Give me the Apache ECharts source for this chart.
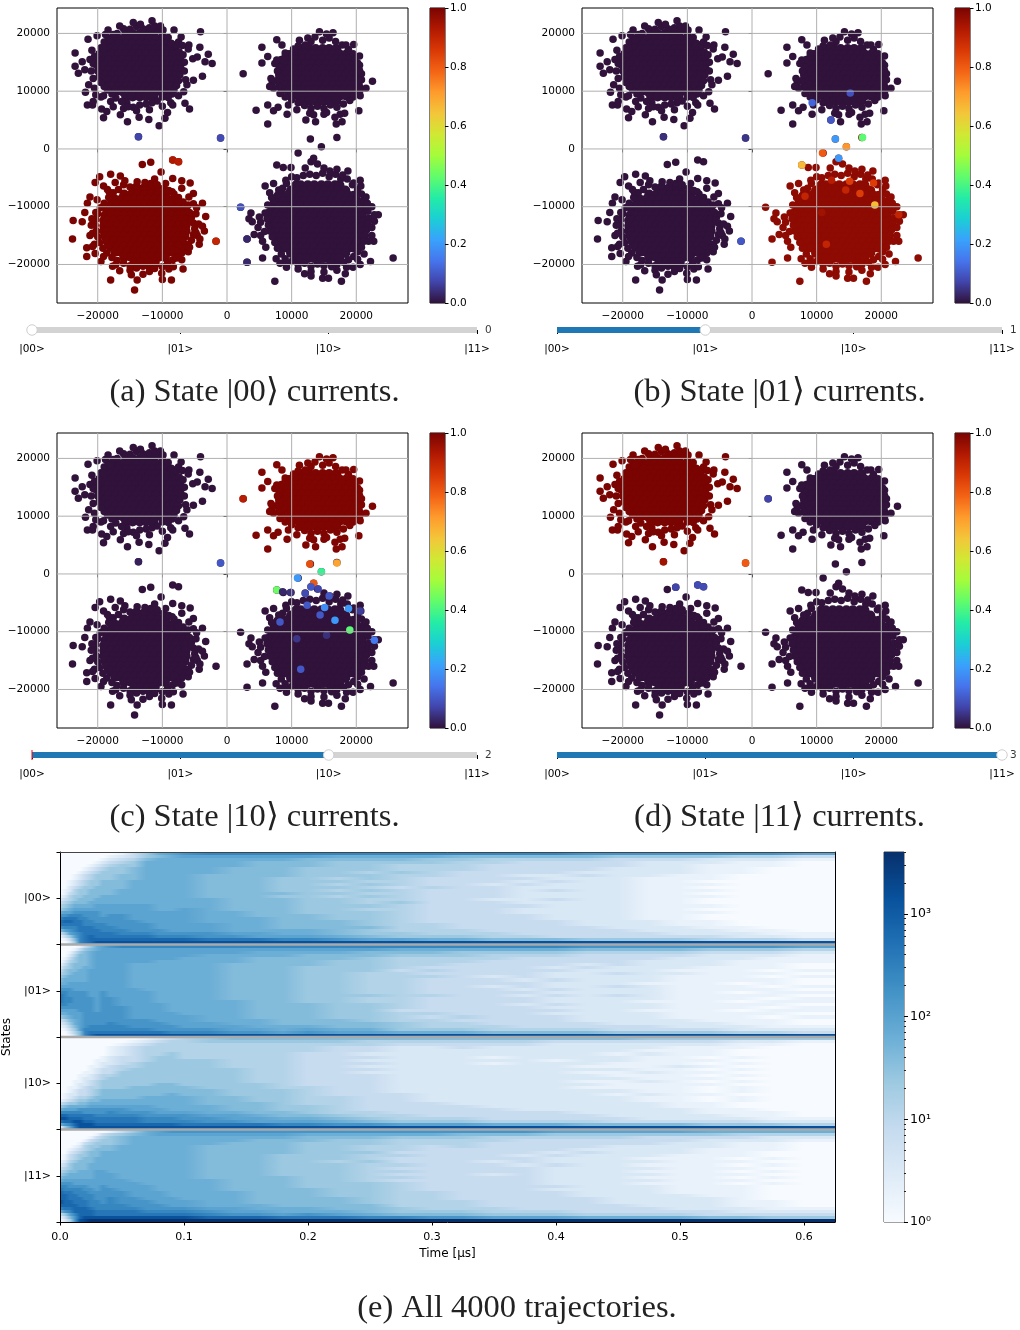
<!DOCTYPE html>
<html><head><meta charset="utf-8">
<script src="https://cdn.jsdelivr.net/npm/echarts@6/dist/echarts.min.js"></script>
<style>html,body{margin:0;padding:0;background:#fff}#c{width:1020px;height:1330px}</style></head>
<body><div id="c"></div>
<script>
// Scatter positions, units of 100 (current). Core rows: [y, x, x, ...]; ring/outer: flat x,y pairs.
const coreLL=[[-70,-143,-133,-122,-112],[-79,-159,-148,-138,-127,-117,-106,-96],[-88,-173,-164,-154,-143,-133,-122,-112,-101,-91,-82],[-97,-180,-169,-159,-148,-138,-127,-117,-106,-96,-85,-75],[-106,-185,-175,-164,-154,-143,-133,-122,-112,-101,-91,-80,-70],[-115,-188,-180,-169,-159,-148,-138,-127,-117,-106,-96,-85,-75,-66],[-124,-190,-185,-175,-164,-154,-143,-133,-122,-112,-101,-91,-80,-70,-64],[-133,-190,-180,-169,-159,-148,-138,-127,-117,-106,-96,-85,-75,-64],[-142,-190,-185,-175,-164,-154,-143,-133,-122,-112,-101,-91,-80,-70,-64],[-151,-188,-180,-169,-159,-148,-138,-127,-117,-106,-96,-85,-75,-66],[-160,-185,-175,-164,-154,-143,-133,-122,-112,-101,-91,-80,-70],[-169,-180,-169,-159,-148,-138,-127,-117,-106,-96,-85,-75],[-178,-173,-164,-154,-143,-133,-122,-112,-101,-91,-82],[-187,-159,-148,-138,-127,-117,-106,-96],[-196,-143,-133,-122,-112]];
const ringLL=[-160,-62,-150,-66,-140,-64,-128,-66,-118,-60,-108,-66,-98,-68,-90,-72,-82,-78,-75,-84,-68,-92,-62,-100,-58,-110,-55,-118,-52,-128,-50,-138,-52,-148,-55,-158,-60,-165,-64,-172,-70,-180,-76,-186,-84,-192,-92,-198,-100,-204,-110,-200,-120,-205,-130,-203,-140,-206,-150,-202,-160,-198,-170,-193,-178,-188,-186,-180,-192,-172,-197,-162,-200,-152,-202,-142,-204,-132,-203,-122,-200,-112,-196,-102,-190,-94,-183,-84,-176,-76,-168,-70,-210,-132,-212,-150,-205,-165,-195,-195,-182,-75,-185,-70,-158,-55,-112,-52,-95,-60,-70,-68,-52,-95,-48,-112,-44,-130,-46,-150,-70,-192,-90,-208,-120,-212,-150,-210,-172,-200];
const outerLL=[-238,-124,-239,-156,-224,-126,-220,-110,-209,-121,-216,-94,-212,-83,-204,-58,-197,-48,-180,-44,-165,-47,-201,-88,-191,-64,-173,-58,-203,-110,-208,-146,-217,-171,-208,-169,-217,-186,-204,-181,-191,-186,-177,-203,-166,-211,-180,-227,-148,-218,-139,-227,-130,-217,-143,-244,-112,-207,-101,-215,-100,-226,-86,-227,-83,-204,-68,-208,-78,-189,-60,-178,-58,-170,-43,-165,-42,-156,-35,-142,-38,-134,-48,-145,-33,-117,-47,-102,-56,-123,-38,-94,-52,-77,-59,-83,-57,-59,-70,-55,-84,-51,-102,-40,-131,-27,-118,-23,-139,-57,-127,-58,-108,-62,-85,-74,-75,-91,-60,-97,-84,-19,-75,-22,-17,-160];
const coreLR=[[-63,107,114,125,135,146,156,167,174],[-72,99,109,120,130,141,151,162,172,183],[-81,86,93,104,114,125,135,146,156,167,177,188,196],[-90,81,88,99,109,120,130,141,151,162,172,183,193,201],[-99,76,83,93,104,114,125,135,146,156,167,177,188,198,206],[-108,73,78,88,99,109,120,130,141,151,162,172,183,193,204,209],[-117,72,83,93,104,114,125,135,146,156,167,177,188,198,209],[-126,71,78,88,99,109,120,130,141,151,162,172,183,193,204,211],[-135,72,83,93,104,114,125,135,146,156,167,177,188,198,209],[-144,73,78,88,99,109,120,130,141,151,162,172,183,193,204,209],[-153,76,83,93,104,114,125,135,146,156,167,177,188,198,206],[-162,81,88,99,109,120,130,141,151,162,172,183,193,201],[-171,86,93,104,114,125,135,146,156,167,177,188,196],[-180,99,109,120,130,141,151,162,172,183],[-189,107,114,125,135,146,156,167,174]];
const ringLR=[100,-48,108,-50,118,-46,128,-44,138,-46,148,-42,158,-48,168,-44,176,-52,186,-52,194,-62,202,-70,208,-78,212,-88,215,-98,218,-108,220,-120,218,-130,216,-140,214,-150,212,-160,208,-170,202,-178,196,-186,188,-192,180,-196,170,-200,160,-197,150,-202,140,-199,130,-203,120,-198,110,-200,100,-195,90,-190,84,-182,78,-172,74,-162,70,-152,66,-142,64,-132,63,-122,64,-110,68,-100,72,-90,78,-80,86,-68,92,-60,72,-60,66,-76,50,-118,48,-136,52,-150,60,-170,76,-190,92,-205,110,-208,130,-212,150,-213,170,-210,195,-205,212,-182,224,-150,226,-120,224,-100,150,-33,170,-35];
const outerLR=[77,-28,87,-32,99,-32,121,-33,130,-22,140,-26,59,-64,69,-84,63,-97,37,-111,34,-121,39,-126,52,-127,59,-111,62,-120,58,-143,42,-148,31,-156,55,-160,55,-189,31,-196,74,-229,82,-198,92,-198,120,-216,130,-220,148,-224,157,-224,177,-229,183,-216,185,-205,162,-204,206,-200,202,-191,222,-195,257,-189,227,-160,219,-160,224,-136,228,-125,234,-114,228,-114,217,-104,217,-94,215,-83,207,-64,206,-54,187,-38,179,-45,159,-38,196,-59,91,-54,80,-71,21,-101,170,20,129,17,146,4,110,-7,134,-16];
const coreUR=[[173,116,127,137,148,158,169],[164,101,111,122,132,143,153,164,174,185],[155,95,106,116,127,137,148,158,169,179,190],[146,90,101,111,122,132,143,153,164,174,185,195],[137,85,95,106,116,127,137,148,158,169,179,190,200],[128,85,90,101,111,122,132,143,153,164,174,185,195,201],[119,85,95,106,116,127,137,148,158,169,179,190,200],[110,90,101,111,122,132,143,153,164,174,185,195],[101,95,106,116,127,137,148,158,169,179,190],[92,101,111,122,132,143,153,164,174,185],[83,116,127,137,148,158,169]];
const ringUR=[125,192,130,186,148,188,158,192,168,186,178,180,110,178,105,168,95,165,188,172,195,165,198,156,205,145,208,130,208,120,205,108,200,100,195,90,190,84,180,78,170,72,160,76,150,70,140,74,130,70,120,75,110,80,100,85,90,90,84,100,80,108,76,118,80,128,78,135,80,145,84,155,90,160,70,115,72,105,215,105,150,60,128,62,108,68,175,60];
const outerUR=[143,203,154,199,164,201,136,194,77,189,85,180,54,176,63,160,54,149,74,148,77,154,90,166,103,173,112,188,121,180,196,181,184,180,205,161,202,149,205,136,225,117,205,117,206,102,206,92,204,66,182,62,178,47,169,43,167,55,154,63,137,47,122,50,134,59,93,60,79,72,72,66,63,76,45,67,63,43,25,130,68,122,66,108,82,96,95,76];
const coreUL=[[199,-156,-146,-135,-125,-114],[190,-172,-162,-151,-141,-130,-120,-109,-99],[181,-183,-177,-167,-156,-146,-135,-125,-114,-104,-93,-87],[172,-189,-183,-172,-162,-151,-141,-130,-120,-109,-99,-88,-82],[163,-192,-188,-177,-167,-156,-146,-135,-125,-114,-104,-93,-83,-78],[154,-193,-183,-172,-162,-151,-141,-130,-120,-109,-99,-88,-78],[145,-195,-188,-177,-167,-156,-146,-135,-125,-114,-104,-93,-83,-76],[136,-193,-183,-172,-162,-151,-141,-130,-120,-109,-99,-88,-78],[127,-192,-188,-177,-167,-156,-146,-135,-125,-114,-104,-93,-83,-78],[118,-189,-183,-172,-162,-151,-141,-130,-120,-109,-99,-88,-82],[109,-183,-177,-167,-156,-146,-135,-125,-114,-104,-93,-87],[100,-172,-162,-151,-141,-130,-120,-109,-99],[91,-156,-146,-135,-125,-114]];
const ringUL=[-170,200,-178,192,-160,208,-150,207,-130,208,-120,210,-108,205,-100,198,-92,188,-86,182,-78,178,-74,168,-72,158,-70,148,-71,138,-73,128,-75,118,-78,110,-82,102,-85,95,-92,96,-100,90,-108,83,-116,80,-125,78,-135,76,-145,72,-155,80,-163,82,-172,88,-178,95,-185,102,-190,108,-195,115,-198,125,-200,135,-202,145,-200,155,-198,165,-195,175,-190,185,-184,192,-176,198,-205,160,-210,135,-212,155,-188,198,-112,213,-140,212,-103,213,-75,185,-66,150,-64,120,-75,92,-87,80,-100,74,-120,68,-140,66,-160,70,-180,82,-195,90,-205,105];
const outerUL=[-235,166,-235,143,-230,131,-224,151,-220,137,-215,190,-209,171,-201,196,-191,174,-207,148,-207,122,-214,111,-219,98,-203,94,-216,76,-208,76,-191,92,-207,82,-194,69,-186,65,-191,54,-184,206,-166,213,-145,219,-134,216,-116,222,-82,206,-71,194,-41,203,-42,176,-29,164,-34,151,-23,148,-38,126,-52,119,-53,156,-46,159,-69,179,-59,180,-60,173,-68,163,-66,135,-62,111,-67,99,-65,79,-58,69,-84,76,-92,63,-96,53,-91,89,-105,40,-121,51,-136,55,-154,47,-165,59,-176,73,-181,189,-91,193,-99,206,-153,73,-137,21,-10,19];
// Points whose colour differs from their cluster: x, y, value
const extrasA=[[-137,21,.07],[-10,19,.08],[-84,-19,.93],[-75,-22,.92],[-17,-160,.9],[21,-101,.09],[31,-156,.03],[31,-196,.03]];
const extrasB=[[-137,21,.04],[-10,19,.05],[-17,-160,.1],[122,50,.1],[93,80,.12],[152,97,.09],[129,17,.2],[171,20,.42],[146,4,.72],[109,-7,.8],[134,-16,.2],[77,-28,.66],[190,-97,.66],[188,-59,.85],[151,-56,.85],[145,-71,.9],[167,-77,.85],[115,-165,.9],[82,-82,.9],[123,-54,.92],[227,-114,.9],[108,-110,.95]];
const extrasC=[[-137,21,.02],[-10,19,.1],[25,130,.92],[128,17,.82],[170,19,.7],[146,4,.38],[109,-7,.2],[134,-16,.8],[77,-28,.44],[190,-97,.42],[130,-22,.1],[121,-34,.08],[141,-26,.07],[86,-31,.03],[98,-32,.04],[82,-83,.1],[158,-38,.1],[188,-60,.2],[167,-80,.2],[144,-71,.1],[206,-64,.06],[124,-54,.1],[151,-58,.18],[114,-165,.1],[228,-115,.15],[108,-112,.05],[154,-106,.04]];
const extrasD=[[-137,21,.95],[-10,19,.8],[25,130,.07],[-118,-23,.07],[-84,-19,.08],[-75,-22,.08]];
const hotValues=[1,.975,.995,1];
const panelExtras=[extrasA,extrasB,extrasC,extrasD];
const sliderValues=[0,1,2,3];
const sliderLabels=['|00>','|01>','|10>','|11>'];
const scatterTicks=[-20000,-10000,0,10000,20000];
const cbarTicks=[0,.2,.4,.6,.8,1];
const captions=['(a) State |00⟩ currents.','(b) State |01⟩ currents.','(c) State |10⟩ currents.','(d) State |11⟩ currents.','(e) All 4000 trajectories.'];
const stateLabels=['|00>','|01>','|10>','|11>'];
const timeTicks=[0,.1,.2,.3,.4,.5,.6];
const logMajor=[0,1,2,3];
const logMinorCounts=[2,3,4,5,6,7,8,9,20,30,40,50,60,70,80,90,200,300,400,500,600,700,800,900,2000,3000,4000];
// Trajectory density: time-bin edges in µs, and for each state 30 rows (top to bottom) of hex density levels
const tEdges=[0,.004,.008,.012,.016,.02,.025,.03,.035,.04,.05,.06,.07,.08,.09,.1,.12,.14,.16,.18,.2,.225,.25,.275,.3,.325,.35,.375,.4,.425,.45,.475,.5,.525,.55,.575,.6,.625];
const levelFractions=[0,.07,.15,.24,.31,.38,.44,.5,.55,.61,.67,.73,.79,.875,.93,1];
const band00=["00000 0000 013578 9aaaa aaaaaaaaa99999998","00000 0000 123567 88888 87777666665555443","00000 0001 234677 77777 66665544443332221","00000 0012 345777 77766 65555443333222110","00000 0123 455777 77766 65544433333221110","00000 1234 556777 77666 55544433332221100","00001 2345 556777 77666 55454333322221100","00012 3455 566777 76666 55544332232211000","00012 3455 566777 76665 54543333222111000","00123 4556 667777 76665 55443332322110000","00123 4556 667777 76665 54543323222111000","00234 5566 667777 76665 55434332222110000","01245 5666 677777 76665 54543332322111000","01345 5666 677777 76666 55443332222110000","12455 6667 777777 76665 54543332222111000","23456 6677 777777 77666 55443322322110000","34566 6777 777777 77666 55453332222110000","45677 7788 888877 77666 55543333222111000","56788 8888 888877 87666 55443332222110000","78899 9998 888888 87766 55543332222111000","99aaa 9998 998888 87766 65543333222110000","abbba a999 998888 87776 65543333222110000","bccbb aa99 999888 87776 66543333322211000","bbbbb aaaa 999988 88776 66544333322211000","9aaab bbaa a99988 88776 66644333332221100","689ab bbba aa9998 88777 76544433333222110","3589a bbbb baaa99 99887 76554443333322211","1358a bcbb bbbbaa a9988 87655544333333221","0136a bccc cccccc cbbba a9887766655554443","0025a bcdd dddddd ddddd ddddddddddddddddd"];
const band01=["00001 3578 9aaaaa aaaaa aaaaaaaaa99999998","00013 5678 888888 88888 88877777766665554","00135 6788 888888 88877 77666555544443332","00246 6788 888888 87777 66655544433332221","01356 6788 888888 77766 66544443333322211","02456 6788 888877 77766 65544433333222111","13566 6788 887777 77666 65544333323222110","24566 7788 887777 77666 55543333232221110","35667 7888 887777 77666 55534333322211101","45677 7888 887777 77666 55443333223221110","56777 7888 887777 77666 55444323222211101","67777 7888 887777 77666 55443332322211110","77888 8888 887777 77666 55443333222111010","88888 8888 887777 77666 55443323223211101","99988 8888 888777 77666 55443332322211110","aa999 9889 888877 77666 55443333222211011","ba999 9889 888877 77666 55544332323211110","baa99 9989 988877 77666 55443333222211101","baa99 9989 988877 77766 55443333222111011","aa999 9989 988887 77766 65543332322211110","99999 9989 998887 77766 65543333222211101","88889 9989 998887 77766 65533333322111011","77888 9999 998888 77766 65544333222211110","56788 9999 998888 87766 65543433322211101","34678 9999 999988 87776 66544333322221110","23578 9999 a99998 88776 66654433332222110","12468 9aaa aa9999 88877 76654443333322211","01358 aaaa aaaa99 99887 87755544443333222","00246 abbb bbbbba aa998 98877766665555443","00136 acdd dddddd ddddd ddddddddddddddddd"];
const band10=["00000 0000 000123 45666 66666666666555555","00000 0000 001234 45555 55444444333333221","00000 0000 012344 44444 44433333222222110","00000 0000 123444 44444 43322322222211100","00000 0000 123444 44444 43322222222111000","00000 0000 123445 44444 33222222221211000","00000 0001 233455 44444 33322212222110100","00000 0011 233455 55444 33222222122111000","00000 0012 234555 55444 33322212221110100","00000 0112 344555 55444 33222222211121000","00000 0123 345555 55544 33322222222110100","00000 1123 355555 55544 33222222211211000","00001 1234 455555 55544 33322222221110100","00001 2234 555555 55544 33322222222111000","00011 2345 555555 55544 33322222211210100","00012 2345 555566 55554 33322222221111000","00112 3445 556666 65554 43322222211110100","00123 3456 666666 66555 43322222222110100","01223 3456 666667 66555 43332222221211000","01234 4566 666777 76655 44332222222110100","12345 5667 777777 76655 44332222222110100","34556 6777 777777 76665 44333222222211000","56777 7888 888877 77665 54333322222211000","78889 9999 998887 77665 54333332222221100","aaaaa 9999 a99988 87766 54433333322221110","ccbbb bbaa aaa999 98876 65443333332222110","ddccc bbbb bbbaaa 99887 76544433333222211","bccdd ccbb bbbaaa a9988 87655544443333322","79acd ddcc cccccc bbbba a9988877766665554","158bd dddd dddddd ddddd ddddddddddddddddd"];
const band11=["00000 0000 135789 99999 99999999888887777","00000 0013 456788 88888 77777666555555444","00000 0134 567777 77777 66655544444333322","00000 1345 567777 77766 65544443333332221","00001 3455 567777 77666 55544433333322110","00012 4556 677777 76666 55443433332222110","00123 4566 677777 76666 55443333322221110","00234 5667 777777 76666 55533333232221100","01345 5667 777777 76665 55443332322211100","01345 6677 777777 76665 55433333222111010","12456 6677 777777 76665 54533323222211100","23566 6777 777777 76665 55443332322111010","34566 6777 777777 76665 55433333222211100","45667 7788 777777 76665 55443333222111010","56777 7788 877777 76665 55433323222211100","67777 7788 877777 76666 55443333222111010","78888 8888 887777 77666 55433333222211100","99988 8888 888777 77666 55543333222111010","aa999 9889 888877 77666 55543333322211100","baaaa 9989 988877 77666 65543333222211100","cbbaa a999 998887 77766 65544333322211100","ccbba aa99 998887 77766 65544333322221100","ccbbb aa99 a99888 77766 66544333332222100","dccbb baa9 a99988 87766 66544433332222110","ccccb baaa aa9998 87776 66644433333222110","abbcc cbaa aaa999 98877 76654443333322211","79acc ccbb bbbaaa a9887 77655544433333222","358ac ccbb bbbbbb ba998 98766655544443333","1369c dddd dddddd dcccb bbaa9988877776655","0249d efff ffffff fffff fffffffffffffffff"];

const TURBO=["#30123b","#4145ab","#4675ed","#39a2fc","#1bcfd4","#24eca6","#61fc6c","#a4fc3b","#d1e834","#f3c63a","#fe9b2d","#f36315","#d93806","#b11901","#7a0402"];
const BLUES=["#f7fbff","#deebf7","#c6dbef","#9ecae1","#6baed6","#4292c6","#2171b5","#08519c","#08306b"];
const FONT='"DejaVu Sans"', TS=10.5;
const DOT=7.5, COREDOT=10;

function rowsToPts(rows){const o=[];rows.forEach(r=>{for(let i=1;i<r.length;i++)o.push([r[i],r[0]]);});return o;}
function flatToPts(f){const o=[];for(let i=0;i<f.length;i+=2)o.push([f[i],f[i+1]]);return o;}
const clusters=[
  {core:rowsToPts(coreLL),rest:flatToPts(ringLL).concat(flatToPts(outerLL))},
  {core:rowsToPts(coreLR),rest:flatToPts(ringLR).concat(flatToPts(outerLR))},
  {core:rowsToPts(coreUR),rest:flatToPts(ringUR).concat(flatToPts(outerUR))},
  {core:rowsToPts(coreUL),rest:flatToPts(ringUL).concat(flatToPts(outerUL))}];
function panelData(i){
  let d=[];
  clusters.forEach((c,k)=>{
    const v=k===i?hotValues[i]:0;
    c.core.forEach(p=>d.push([p[0]*100,p[1]*100,v,COREDOT]));
    c.rest.forEach(p=>d.push([p[0]*100,p[1]*100,v,DOT]));
  });
  panelExtras[i].forEach(e=>d.push([e[0]*100,e[1]*100,e[2],DOT]));
  return d;
}
const stops=(arr)=>arr.map((c,i)=>({offset:i/(arr.length-1),color:c}));

const grid=[],xAxis=[],yAxis=[],series=[],title=[];
const scatterSeries=[];
const panelPos=[[57,8],[582,8],[57,433],[582,433]];
const lbl={fontFamily:FONT,fontSize:TS,color:'#000'};
const minus=v=>String(v).replace('-','−');
const XR=[-26300,28000],YR=[-26670,24400];
const tickStyle={show:true,length:3.5,lineStyle:{color:'#000'}};
const NUDGE=[2,0,0,0];
panelPos.forEach((p,i)=>{
  const [L,T]=p;
  grid.push({left:L,top:T,width:351,height:295,show:true,borderColor:'#000',borderWidth:1,backgroundColor:'#fff',outerBoundsMode:'none'});
  const g=grid.length-1;
  xAxis.push({gridIndex:g,type:'value',min:XR[0],max:XR[1],axisLine:{show:false},axisTick:{...tickStyle,customValues:scatterTicks},splitLine:{show:false},axisLabel:{...lbl,margin:7.5,customValues:scatterTicks,formatter:minus}});
  yAxis.push({gridIndex:g,type:'value',min:YR[0],max:YR[1],axisLine:{show:false},axisTick:{...tickStyle,customValues:scatterTicks},splitLine:{show:false},axisLabel:{...lbl,margin:7,padding:NUDGE,customValues:scatterTicks,formatter:minus}});
  const xi=xAxis.length-1, yi=yAxis.length-1;
  scatterSeries.push(series.length);
  series.push({type:'scatter',xAxisIndex:xi,yAxisIndex:yi,symbolSize:v=>v[3],data:panelData(i),itemStyle:{opacity:1},z:2,progressive:0,silent:true});
  // grid lines sit above the points
  scatterTicks.forEach(t=>{
    const gl=d=>({type:'line',xAxisIndex:xi,yAxisIndex:yi,data:d,symbol:'none',silent:true,z:3,lineStyle:{color:'#b0b0b0',width:1}});
    series.push(gl([[t,YR[0]],[t,YR[1]]]));
    series.push(gl([[XR[0],t],[XR[1],t]]));
  });
});
panelPos.forEach((p,i)=>{
  const [L,T]=p;
  grid.push({left:L+373,top:T,width:15,height:295,show:true,borderColor:'#000',borderWidth:1,outerBoundsMode:'none'});
  const g=grid.length-1;
  xAxis.push({gridIndex:g,type:'category',data:['c'],show:false});
  yAxis.push({gridIndex:g,type:'value',position:'right',min:0,max:1,axisLine:{show:false},splitLine:{show:false},axisTick:{...tickStyle,customValues:cbarTicks},axisLabel:{...lbl,margin:5,padding:NUDGE,customValues:cbarTicks,formatter:v=>v.toFixed(1)}});
  series.push({type:'bar',xAxisIndex:xAxis.length-1,yAxisIndex:yAxis.length-1,data:[1],barWidth:'100%',silent:true,itemStyle:{color:new echarts.graphic.LinearGradient(0,1,0,0,stops(TURBO))}});
});
panelPos.forEach((p,i)=>{
  const L=(p[0]===57)?32:557, T=p[1]+317;
  grid.push({left:L,top:T,width:445,height:10,outerBoundsMode:'none'});
  const g=grid.length-1;
  xAxis.push({gridIndex:g,type:'value',min:0,max:3,interval:1,axisLine:{show:false},splitLine:{show:false},axisTick:{show:true,length:4,lineStyle:{color:'#000'}},axisLabel:{...lbl,margin:8.5,showMinLabel:true,showMaxLabel:true,formatter:v=>sliderLabels[v]}});
  yAxis.push({gridIndex:g,type:'value',min:-1,max:1,show:false});
  const xi=xAxis.length-1,yi=yAxis.length-1,v=sliderValues[i];
  const line=(d,color,w,z)=>({type:'line',xAxisIndex:xi,yAxisIndex:yi,data:d,symbol:'none',silent:true,clip:false,z:z,lineStyle:{color:color,width:w,cap:'butt'}});
  series.push(line([[0,0],[3,0]],'#d3d3d3',6,3));
  series.push(line([[0,0],[v,0]],'#1f77b4',6,4));
  if(i===2)series.push(line([[0,-1],[0,1]],'#ff0000',1,5));
  series.push({type:'scatter',xAxisIndex:xi,yAxisIndex:yi,data:[[v,0]],symbolSize:10.5,clip:false,silent:true,z:6,itemStyle:{color:'#fff',borderColor:'#cfcfcf',borderWidth:1,opacity:1}});
  series.push({type:'scatter',xAxisIndex:xi,yAxisIndex:yi,data:[[3,0]],symbolSize:0,clip:false,silent:true,z:7,label:{show:true,position:'right',distance:8,...lbl,formatter:String(v)}});
});
// density panel
const heatData=[];
[band00,band01,band10,band11].forEach((band,b)=>{
  band.forEach((row,r)=>{
    const s=row.replace(/ /g,'');
    for(let c=0;c<tEdges.length-1&&c<s.length;c++){
      const lv=parseInt(s[c],16), nx=c+1<s.length?parseInt(s[c+1],16):lv;
      heatData.push([tEdges[c],tEdges[c+1],b+r/30,b+(r+1)/30,lv,nx]);
    }
  });
});
const levelColor=v=>echarts.color.lerp(levelFractions[v],BLUES);
grid.push({left:60,top:852,width:775,height:370,outerBoundsMode:'none'});
let g=grid.length-1;
const spine={show:true,onZero:false,lineStyle:{color:'#000',width:1}};
const lbl2={...lbl,fontSize:11};
xAxis.push({gridIndex:g,type:'value',min:0,max:.625,z:6,name:'Time [μs]',nameLocation:'middle',nameGap:26,nameTextStyle:{...lbl,fontSize:12},axisLine:spine,splitLine:{show:false},axisTick:{...tickStyle,customValues:timeTicks},axisLabel:{...lbl2,margin:9.5,customValues:timeTicks,formatter:v=>v.toFixed(1)}});
const heatX=xAxis.length-1;
xAxis.push({gridIndex:g,type:'value',position:'top',min:0,max:.625,z:6,axisLine:{...spine,lineStyle:{color:'#444',width:1}},axisTick:{show:false},axisLabel:{show:false},splitLine:{show:false}});
yAxis.push({gridIndex:g,type:'value',inverse:true,min:0,max:4,interval:.5,z:6,name:'States',nameLocation:'middle',nameGap:43,nameTextStyle:{...lbl,fontSize:12},axisLine:spine,splitLine:{show:false},axisTick:tickStyle,axisLabel:{...lbl2,margin:9,padding:NUDGE,formatter:v=>Number.isInteger(v)?'':stateLabels[Math.floor(v)]}});
const heatY=yAxis.length-1;
yAxis.push({gridIndex:g,type:'value',position:'right',inverse:true,min:0,max:4,z:6,axisLine:spine,axisTick:{show:false},axisLabel:{show:false},splitLine:{show:false}});
series.push({type:'custom',xAxisIndex:heatX,yAxisIndex:heatY,data:heatData,dimensions:['t0','t1','y0','y1','level','next'],encode:{x:[0,1],y:[2,3]},progressive:0,silent:true,z:2,
  renderItem:(params,api)=>{
    const a=api.coord([api.value(0),api.value(2)]),b=api.coord([api.value(1),api.value(3)]);
    const x=Math.round(a[0]),y=Math.round(a[1]);
    const fill=new echarts.graphic.LinearGradient(0,0,1,0,[{offset:0,color:levelColor(api.value(4))},{offset:1,color:levelColor(api.value(5))}]);
    return {type:'rect',shape:{x:x,y:y,width:Math.round(b[0])-x,height:Math.round(b[1])-y},style:{fill:fill}};
  }});
const separators=[1,2,3];
separators.forEach(s=>{
  series.push({type:'line',xAxisIndex:heatX,yAxisIndex:heatY,data:[[0,s],[.625,s]],symbol:'none',silent:true,z:3,lineStyle:{color:'#aaaaaa',width:2.5}});
});
// density colour bar
grid.push({left:884,top:852,width:20,height:370,show:true,borderColor:'#444',borderWidth:1,outerBoundsMode:'none'});
g=grid.length-1;
xAxis.push({gridIndex:g,type:'category',data:['c'],show:false});
const LOGMAX=Math.log10(4000);
yAxis.push({gridIndex:g,type:'value',position:'right',min:0,max:LOGMAX,axisLine:{show:false},splitLine:{show:false},axisTick:{show:true,length:4,customValues:logMajor,lineStyle:{color:'#000'}},axisLabel:{...lbl,fontSize:12.5,margin:6,padding:NUDGE,customValues:logMajor,formatter:v=>'10'+'⁰¹²³'[v]}});
const cbY=yAxis.length-1;
yAxis.push({gridIndex:g,type:'value',position:'right',min:0,max:LOGMAX,axisLine:{show:false},splitLine:{show:false},axisTick:{show:true,length:2,customValues:logMinorCounts.map(Math.log10),lineStyle:{color:'#222'}},axisLabel:{show:false}});
series.push({type:'bar',xAxisIndex:xAxis.length-1,yAxisIndex:cbY,data:[LOGMAX],barWidth:'100%',silent:true,itemStyle:{color:new echarts.graphic.LinearGradient(0,1,0,0,stops(BLUES))}});
// captions
const capPos=[[254.5,392.5],[779.5,392.5],[254.5,817.5],[779.5,817.5],[517,1308.5]];
captions.forEach((t,i)=>title.push({text:t,left:capPos[i][0],top:capPos[i][1],padding:0,textAlign:'center',textVerticalAlign:'middle',textStyle:{fontFamily:'"Liberation Serif"',fontWeight:'normal',fontSize:32.5,color:'#222'}}));

const chart=echarts.init(document.getElementById('c'),null,{renderer:'canvas',width:1020,height:1330});
chart.setOption({animation:false,backgroundColor:'#fff',title,grid,xAxis,yAxis,series,
  visualMap:[{type:'continuous',show:false,seriesIndex:scatterSeries,dimension:2,min:0,max:1,inRange:{color:TURBO}}]});
</script></body></html>
